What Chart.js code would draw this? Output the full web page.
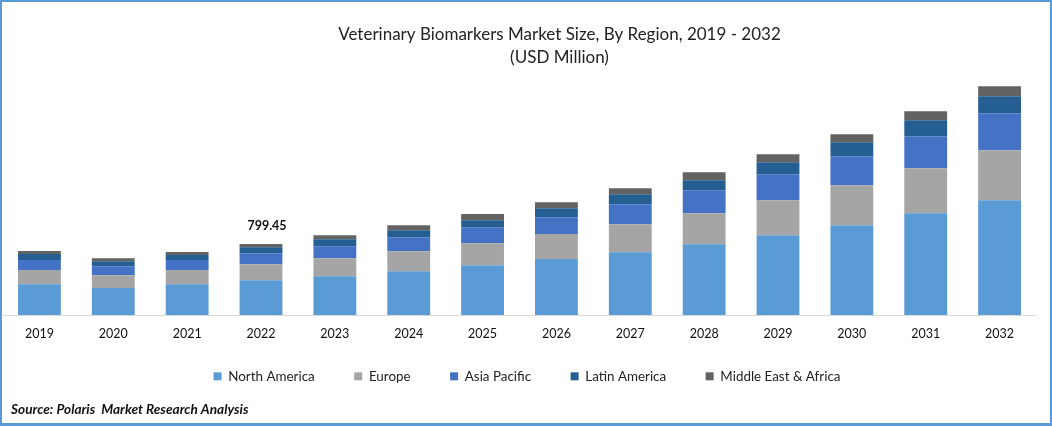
<!DOCTYPE html>
<html>
<head>
<meta charset="utf-8">
<title>Veterinary Biomarkers Market Size</title>
<style>
  html, body { margin: 0; padding: 0; background: #fff; overflow: hidden; }
  #wrap { position: relative; width: 1052px; height: 426px; }
  #wrap:after { content: ''; position: absolute; left: 0; top: 0; right: 0; bottom: 0; border: solid #5b9bd5; border-width: 2px 2px 3px 2px; pointer-events: none; }
</style>
<script src="https://cdn.jsdelivr.net/npm/chart.js@4"></script>
</head>
<body>
<div id="wrap"><canvas id="chart" width="1052" height="426"></canvas></div>
<script>
const years = ['2019', '2020', '2021', '2022', '2023', '2024', '2025', '2026', '2027', '2028', '2029', '2030', '2031', '2032'];
const northAmerica = [349, 304, 349, 394, 439, 495, 563, 631, 709, 799, 901, 1013, 1149, 1295];
const europe = [158, 146, 158, 180, 203, 225, 248, 282, 315, 349, 394, 450, 507, 563];
const asiaPacific = [113, 101, 113, 124, 135, 158, 180, 191, 225, 259, 293, 327, 360, 417];
const latinAmerica = [68, 56, 56, 68, 79, 79, 79, 101, 113, 113, 135, 158, 180, 191];
const middleEastAfrica = [34, 34, 34, 34, 45, 56, 68, 68, 68, 90, 90, 90, 101, 113];
const calloutYear = '2022';
const calloutText = '799.45';

const textFont = 'Lato, sans-serif';

function series(label, data, color) {
  return { label, data, backgroundColor: color, stack: 'all', categoryPercentage: 1, barPercentage: 0.58 };
}

// title and legend sit right of the canvas centre in the original
// x axis box is kept short so the legend fits, so its label clip has to grow back
const layoutTweaks = {
  id: 'layoutTweaks',
  afterLayout(c) {
    c.titleBlock.left += 40;
    c.titleBlock.right += 40;
    c.legend.left += 7.5;
    c.legend.right += 7.5;
    c.scales.x.bottom += 20;
  },
};

// the 2022 total above its bar, and the source line in the corner
const annotations = {
  id: 'annotations',
  afterDraw(c) {
    const ctx = c.ctx;
    const i = years.indexOf(calloutYear);
    const top = c.getDatasetMeta(c.data.datasets.length - 1).data[i];
    ctx.save();
    ctx.fillStyle = '#111';
    ctx.textAlign = 'center';
    ctx.textBaseline = 'middle';
    ctx.font = 'bold 12.5px ' + textFont;
    ctx.fillText(calloutText, top.x + 6, top.y - 18);
    ctx.textAlign = 'left';
    ctx.font = 'italic bold 13.65px ' + textFont;
    ctx.fillText('Source: Polaris  Market Research Analysis', 11, 410);
    ctx.restore();
  },
};

new Chart(document.getElementById('chart'), {
  type: 'bar',
  data: {
    labels: years,
    datasets: [
      series('North America', northAmerica, '#5b9bd5'),
      series('Europe', europe, '#a5a5a5'),
      series('Asia Pacific', asiaPacific, '#4472c4'),
      series('Latin America', latinAmerica, '#255e91'),
      series('Middle East & Africa', middleEastAfrica, '#636363'),
    ],
  },
  options: {
    responsive: false,
    animation: false,
    layout: { padding: { left: 2.5, right: 15.5, top: 0, bottom: 33 } },
    plugins: {
      tooltip: { enabled: false },
      title: {
        display: true,
        text: ['Veterinary Biomarkers Market Size, By Region, 2019 - 2032', '(USD Million)'],
        color: '#222',
        font: { family: textFont, size: 17, weight: 'normal', lineHeight: 1.36 },
        padding: { top: 23, bottom: 10 },
      },
      legend: {
        position: 'bottom',
        labels: {
          boxWidth: 8,
          boxHeight: 8,
          padding: 39.5,
          color: '#222',
          font: { family: textFont, size: 13.4 },
        },
      },
    },
    scales: {
      x: {
        stacked: true,
        grid: { display: false },
        border: { color: '#d9d9d9', width: 1 },
        ticks: { color: '#111', font: { family: textFont, size: 12.5 }, padding: 3, maxRotation: 0 },
        afterFit(scale) { scale.height = 15; },
      },
      y: {
        stacked: true,
        display: false,
        min: 0,
        max: 2658,
      },
    },
  },
  plugins: [layoutTweaks, annotations],
});
</script>
</body>
</html>
